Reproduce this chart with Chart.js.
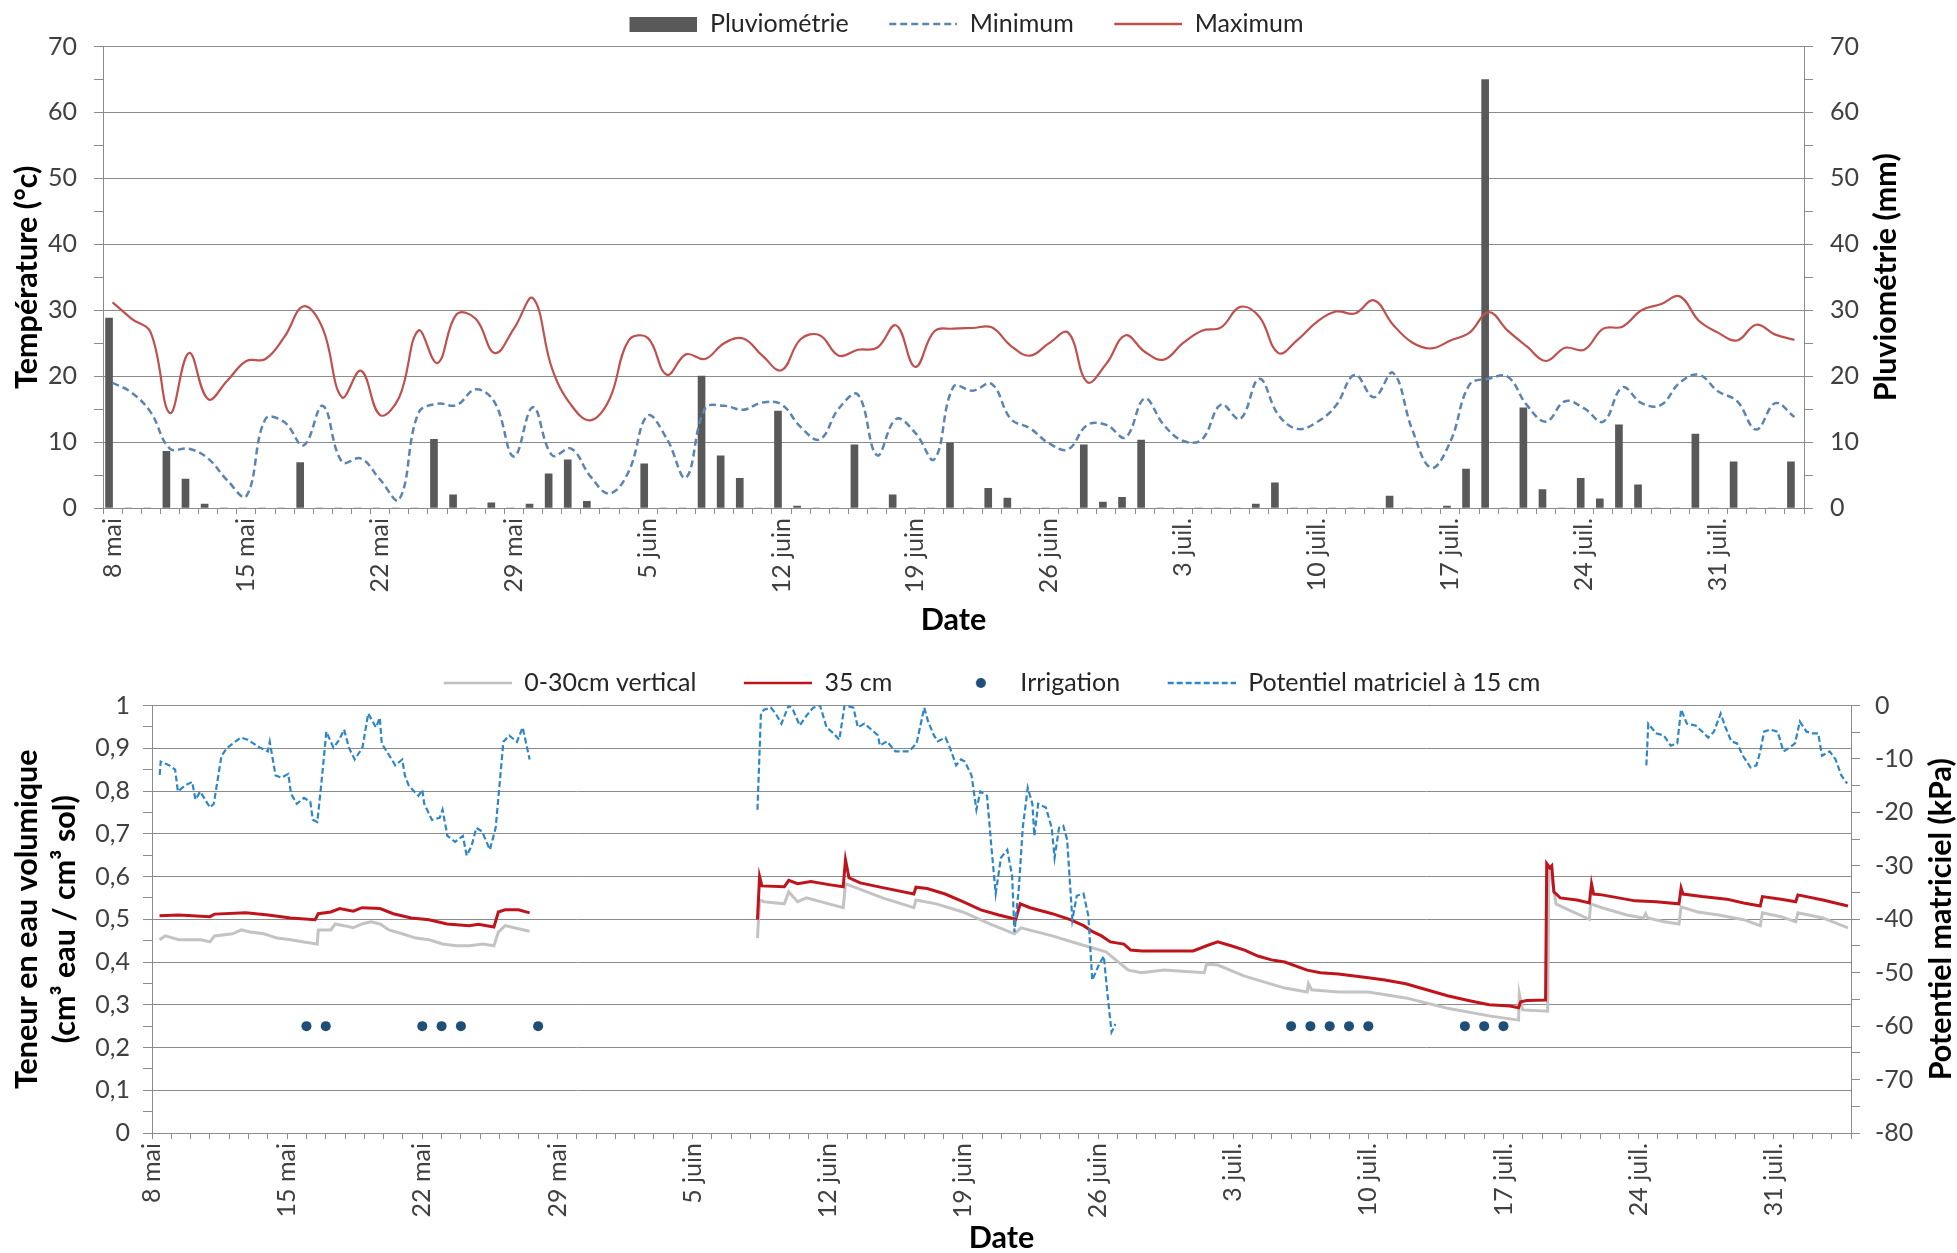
<!DOCTYPE html>
<html>
<head>
<meta charset="utf-8">
<script src="https://cdn.jsdelivr.net/npm/chart.js@4.4.1/dist/chart.umd.min.js"></script>
<style>
  html, body { margin: 0; padding: 0; background: #fff; }
  #wrap { position: relative; width: 1957px; height: 1253px; }
  .box { position: absolute; left: 0; width: 1957px; }
  #top { top: 0; height: 650px; }
  #bottom { top: 650px; height: 603px; }
</style>
</head>
<body>
<div id="wrap">
  <div class="box" id="top"><canvas id="meteo"></canvas></div>
  <div class="box" id="bottom"><canvas id="sol"></canvas></div>
</div>
<script>
// tick labels of the date axis (one every 7 days from 8 mai)
var weekLabels = ['8 mai','15 mai','22 mai','29 mai','5 juin','12 juin','19 juin','26 juin','3 juil.','10 juil.','17 juil.','24 juil.','31 juil.'];

// daily temperatures, 8 mai -> 4 août
var tempMax = [31.2,28.7,26.6,14.4,23.5,16.5,19.3,22.3,22.6,26.0,
  30.6,27.2,16.8,20.8,14.1,16.8,26.9,22.0,29.4,28.7,
  23.5,27.2,31.8,21.1,15.6,13.3,16.5,25.4,25.8,20.2,
  23.3,22.6,25.0,25.7,23.1,20.9,25.6,26.2,23.1,24.0,
  24.3,27.7,21.4,26.8,27.2,27.3,27.4,24.6,23.1,25.0,
  26.6,19.1,21.9,26.2,23.7,22.5,25.0,26.9,27.4,30.5,
  29.0,23.5,25.5,28.2,29.8,29.5,31.5,27.8,25.1,24.2,
  25.4,26.6,29.7,26.9,24.5,22.3,24.3,24.0,27.2,27.5,
  30.0,30.9,32.1,28.4,26.6,25.4,27.8,26.3,25.5];
var tempMin = [19.0,17.5,14.5,9.0,9.0,7.5,4.2,1.8,13.5,13.0,
  9.5,15.5,7.0,7.5,4.3,1.3,14.4,15.8,15.6,18.0,
  16.0,7.8,15.3,8.0,9.0,4.8,2.2,5.5,14.0,10.5,
  4.6,15.1,15.5,14.9,16.0,15.7,12.3,10.4,15.1,17.2,
  8.0,13.5,11.4,7.4,18.4,17.8,18.8,13.5,12.1,9.8,
  8.9,12.6,12.6,10.7,16.6,12.6,10.2,10.4,15.7,13.5,
  19.6,14.1,12.0,13.0,15.5,20.2,16.8,20.5,11.9,6.1,
  10.1,18.7,19.6,19.9,15.6,13.1,16.2,15.1,13.1,18.3,
  15.9,15.6,19.0,20.2,17.7,16.2,11.9,15.9,13.8];
// daily rainfall (mm)
var rain = [28.8,0,0,8.6,4.4,0.6,0,0,0,0,
  6.9,0,0,0,0,0,0,10.4,2.0,0,
  0.8,0,0.6,5.2,7.3,1.0,0,0,6.7,0,
  0,20,7.9,4.5,0,14.7,0.3,0,0,9.6,
  0,2.0,0,0,9.9,0,3.0,1.5,0,0,
  0,9.6,0.9,1.6,10.3,0,0,0,0,0,
  0.6,3.8,0,0,0,0,0,1.8,0,0,
  0.3,5.9,65,0,15.2,2.8,0,4.5,1.4,12.6,
  3.5,0,0,11.2,0,7.0,0,0,7.0];

// soil water content [day since 8 mai, cm3/cm3]
var shallowA = [[0.39,.452],[0.69,.461],[1.39,.452],[2.55,.452],[3.0,.447],[3.24,.461],[4.17,.466],[4.63,.475],[5.09,.47],[5.79,.466],[6.48,.456],[7.18,.452],[7.87,.447],[8.56,.442],[8.61,.475],[9.26,.475],[9.49,.489],[9.95,.485],[10.42,.48],[10.88,.489],[11.34,.494],[11.81,.489],[12.27,.475],[12.96,.466],[13.66,.456],[14.35,.452],[15.05,.442],[15.74,.438],[16.44,.438],[17.13,.442],[17.71,.438],[17.94,.47],[18.29,.485],[18.75,.48],[19.56,.472]];
var shallowB = [[31.36,.456],[31.47,.545],[31.7,.541],[32.75,.536],[32.98,.564],[33.44,.541],[33.9,.55],[35.06,.536],[35.8,.527],[35.92,.583],[36.45,.574],[37.84,.55],[39.46,.527],[39.57,.545],[40.62,.536],[42.0,.517],[43.39,.489],[44.67,.466],[45.01,.48],[46.63,.461],[48.02,.442],[49.41,.424],[50.57,.381],[51.26,.375],[52.42,.381],[54.5,.375],[54.62,.395],[55.2,.393],[56.59,.367],[58.67,.339],[59.83,.33],[59.9,.349],[60.06,.335],[61.45,.33],[63,.33],[64.94,.316],[67.1,.292],[69.26,.274],[70.78,.264],[70.82,.325],[70.99,.288],[72.29,.285],[72.35,.611],[72.5,.597],[72.72,.536],[73.37,.522],[74.45,.5],[74.51,.536],[75.1,.527],[76.39,.51],[77.25,.503],[77.36,.513],[77.47,.503],[78.33,.494],[79.09,.489],[79.2,.529],[80.06,.517],[81.14,.51],[82.44,.499],[83.3,.485],[83.41,.515],[84.38,.506],[85.14,.494],[85.25,.515],[86.54,.503],[87.84,.48]];
var deepA = [[0.39,.508],[1.39,.51],[3.0,.506],[3.24,.512],[4.86,.515],[6.02,.51],[7.18,.503],[8.45,.499],[8.61,.513],[9.26,.517],[9.72,.525],[10.42,.519],[10.88,.527],[11.81,.525],[12.5,.513],[13.43,.503],[14.35,.499],[15.28,.489],[16.44,.485],[16.9,.488],[17.71,.482],[17.94,.517],[18.29,.522],[18.98,.522],[19.56,.515]];
var deepB = [[31.36,.499],[31.47,.6],[31.59,.578],[32.75,.576],[32.98,.591],[33.44,.583],[34.13,.588],[35.06,.581],[35.8,.576],[35.92,.639],[36.1,.597],[36.68,.585],[37.84,.574],[39.46,.559],[39.57,.575],[40.15,.572],[41.08,.559],[42.0,.541],[42.93,.522],[43.86,.51],[44.74,.5],[44.97,.536],[45.48,.527],[46.63,.513],[47.56,.499],[48.25,.485],[48.72,.471],[49.18,.461],[49.64,.447],[50.34,.442],[50.69,.428],[51.26,.426],[53.35,.426],[53.93,.426],[54.62,.438],[55.2,.447],[55.89,.438],[56.59,.428],[57.28,.414],[57.98,.405],[58.67,.4],[59.83,.381],[60.52,.375],[61.45,.372],[63,.363],[63.86,.358],[64.94,.349],[66.02,.335],[67.1,.321],[68.18,.31],[69.26,.3],[70.34,.297],[70.78,.293],[70.89,.307],[71.21,.31],[72.18,.311],[72.24,.63],[72.4,.62],[72.5,.625],[72.61,.564],[72.94,.55],[73.8,.545],[74.45,.538],[74.56,.583],[74.67,.559],[75.1,.557],[75.96,.55],[76.82,.543],[77.9,.541],[79.09,.536],[79.2,.573],[79.3,.559],[80.28,.553],[81.57,.547],[82.44,.538],[83.3,.531],[83.41,.553],[84.38,.547],[85.14,.541],[85.25,.557],[86.54,.545],[87.84,.531]];

// matric potential at 15 cm [day, kPa]
var potA = [[0.4,-13],[0.45,-10.5],[0.9,-11.2],[1.2,-12],[1.34,-16.1],[1.7,-15],[2.08,-14.3],[2.25,-17.6],[2.5,-16.1],[3.0,-19.1],[3.2,-18.4],[3.6,-9.4],[3.9,-7.9],[4.6,-6],[4.95,-6.4],[5.6,-7.9],[6.0,-8.6],[6.1,-6.8],[6.4,-13.1],[6.7,-13.5],[7.06,-12.8],[7.2,-16.5],[7.5,-18.4],[7.87,-17.3],[8.2,-18],[8.33,-21.4],[8.56,-21.8],[8.75,-15.4],[9.03,-4.9],[9.4,-7.9],[9.7,-6.4],[9.95,-4.5],[10.2,-7.9],[10.5,-10.1],[10.9,-7.9],[11.2,-1.5],[11.6,-4.1],[11.8,-2.3],[11.9,-7.1],[12.3,-9.4],[12.6,-11.2],[12.96,-10.1],[13.1,-13.1],[13.3,-15],[13.8,-16.9],[14.0,-15.8],[14.1,-18.4],[14.5,-21.4],[14.9,-21],[15.05,-19.5],[15.3,-24.4],[15.7,-25.5],[16.1,-24.4],[16.3,-28.1],[16.55,-26.3],[16.8,-22.9],[17.1,-23.6],[17.5,-27],[17.8,-22.9],[18.2,-6.8],[18.5,-5.6],[18.9,-6.8],[19.2,-4.1],[19.56,-10.1]];
var potB = [[31.36,-19.5],[31.54,-1.5],[31.7,-0.8],[32.05,-0.4],[32.3,-1.5],[32.6,-3.4],[32.98,0],[33.2,-0.8],[33.55,-3.75],[33.9,-1.9],[34.25,-0.4],[34.6,0],[34.94,-4.1],[35.3,-5.2],[35.6,-6.4],[35.87,0],[36.33,-0.4],[36.56,-4.1],[36.9,-3.4],[37.26,-4.5],[37.6,-5.6],[37.7,-7.5],[38.07,-6.7],[38.5,-8.6],[38.9,-8.6],[39.2,-8.6],[39.6,-7.1],[40.0,-0.4],[40.2,-3],[40.5,-5.6],[40.7,-6.7],[41.1,-6],[41.36,-8.2],[41.65,-11.2],[41.9,-10.1],[42.1,-10.5],[42.45,-13.1],[42.7,-19.5],[42.9,-16.1],[43.25,-16.9],[43.5,-27.4],[43.7,-35.2],[43.97,-28.5],[44.3,-27],[44.55,-31.9],[44.67,-42.4],[44.9,-34.1],[45.1,-22.9],[45.36,-15.4],[45.6,-18.4],[45.7,-24.4],[45.9,-18.4],[46.3,-19.1],[46.6,-22.9],[46.75,-28.5],[46.98,-22.9],[47.2,-22.5],[47.4,-25.1],[47.67,-40.1],[47.9,-35.6],[48.25,-35.2],[48.5,-39.4],[48.7,-51.4],[49.06,-48.4],[49.3,-46.9],[49.5,-54.4],[49.7,-61.1],[49.9,-59.6]];
var potC = [[77.4,-11.2],[77.5,-3.4],[77.9,-5.2],[78.3,-5.6],[78.66,-7.5],[79.0,-7.1],[79.2,-0.75],[79.5,-3.4],[79.95,-3.75],[80.3,-4.9],[80.6,-6],[80.9,-4.9],[81.25,-1.5],[81.5,-4.1],[81.8,-6.7],[82.1,-7.1],[82.4,-9.4],[82.8,-11.6],[83.1,-11.2],[83.3,-8.6],[83.5,-4.9],[83.8,-4.5],[84.2,-4.9],[84.5,-8.6],[84.8,-7.9],[85.1,-7.1],[85.35,-3],[85.7,-4.9],[86.0,-5.2],[86.3,-5.2],[86.5,-9.4],[86.9,-8.6],[87.2,-10.1],[87.5,-13.1],[87.8,-14.6]];

// irrigation days
var irrigationDays = [8,9,14,15,16,20,59,60,61,62,63,68,69,70];
var irrigationLevel = 0.25;

var FONT = 'Lato';
var GREY = '#8c8c8c';
var TICK_FONT = {family: FONT, size: 25};
var TITLE_FONT = {family: FONT, size: 30.5, weight: 'bold'};

function pts(list){ return list.map(function(p){ return {x: p[0], y: p[1]}; }); }
function joinGaps(){
  var out = [];
  for (var i = 0; i < arguments.length; i++){
    if (i > 0) out.push({x: (arguments[i-1][arguments[i-1].length-1][0] + arguments[i][0][0]) / 2, y: null});
    out = out.concat(pts(arguments[i]));
  }
  return out;
}

// legend icons, drawn on small canvases (lead = blank space on the left)
function legendIcon(kind, color, lead, dash){
  var c = document.createElement('canvas');
  c.width = lead + 68; c.height = 16;
  var g = c.getContext('2d');
  g.fillStyle = color; g.strokeStyle = color;
  if (kind == 'bar'){
    g.fillRect(lead, 1, 68, 15);
  } else if (kind == 'dot'){
    g.beginPath(); g.arc(c.width - 27, 8, 5, 0, Math.PI * 2); g.fill();
  } else {
    g.lineWidth = 2.5; g.setLineDash(dash || []);
    g.beginPath(); g.moveTo(lead, 8); g.lineTo(lead + 68, 8); g.stroke();
  }
  return c;
}

// right-hand axis title reading bottom to top
var rightTitle = {
  id: 'rightTitle',
  afterDraw: function(chart){
    var o = chart.config.options.plugins.rightTitle;
    var a = chart.chartArea, ctx = chart.ctx;
    ctx.save();
    ctx.translate(o.x, (a.top + a.bottom) / 2);
    ctx.rotate(-Math.PI / 2);
    ctx.font = 'bold 30.5px ' + FONT;
    ctx.fillStyle = '#000';
    ctx.textAlign = 'center'; ctx.textBaseline = 'middle';
    ctx.fillText(o.text, 0, 0);
    ctx.restore();
  }
};

function dateAxis(h, titlePad){
  return {
    type: 'linear', min: 0, max: 88,
    ticks: {
      stepSize: 1, autoSkip: false, maxTicksLimit: 200, minRotation: 90, maxRotation: 90,
      padding: 4, font: TICK_FONT, color: '#404040',
      callback: function(v){ return v % 7 === 0 ? weekLabels[v / 7] : ''; }
    },
    grid: {drawOnChartArea: false, tickLength: 6, color: GREY},
    border: {color: GREY},
    title: {display: true, text: 'Date', font: TITLE_FONT, color: '#000', padding: {top: 0, bottom: titlePad}},
    afterFit: function(s){ s.height = h; }
  };
}

function legendOpts(icons, lead, pad){
  return {
    position: 'top',
    labels: {
      usePointStyle: true, pointStyleWidth: lead + 68, boxHeight: 16,
      padding: pad, font: {family: FONT, size: 25}, color: '#262626',
      sort: function(a, b){ return a.datasetIndex - b.datasetIndex; },
      generateLabels: function(chart){
        return Chart.defaults.plugins.legend.labels.generateLabels(chart).map(function(it){
          it.pointStyle = icons[it.datasetIndex]; return it;
        });
      }
    }
  };
}

// ---------- Meteo ----------
var leadTop = 36;
var topIcons = [legendIcon('bar', '#595959', leadTop), legendIcon('line', '#5b84b1', leadTop, [7, 4]), legendIcon('line', '#c0504d', leadTop)];
new Chart(document.getElementById('meteo'), {
  type: 'bar',
  data: {
    datasets: [
      {type: 'bar', label: 'Pluviométrie', data: rain, xAxisID: 'x2', yAxisID: 'y1',
        backgroundColor: '#595959', barThickness: 7, order: 3},
      {type: 'line', label: 'Minimum', data: tempMin.map(function(v, i){ return {x: i, y: v}; }),
        xAxisID: 'x', yAxisID: 'y', borderColor: '#5b84b1', borderDash: [7, 4], borderWidth: 2.5,
        pointRadius: 0, tension: 0.4, fill: false, order: 1},
      {type: 'line', label: 'Maximum', data: tempMax.map(function(v, i){ return {x: i, y: v}; }),
        xAxisID: 'x', yAxisID: 'y', borderColor: '#c0504d', borderWidth: 2.2,
        pointRadius: 0, tension: 0.4, fill: false, order: 2}
    ]
  },
  options: {
    responsive: true, maintainAspectRatio: false, animation: false, events: [],
    layout: {padding: {top: 7, right: 60, bottom: 0, left: 0}},
    plugins: {
      legend: legendOpts(topIcons, leadTop, 4.5),
      tooltip: {enabled: false},
      rightTitle: {text: 'Pluviométrie (mm)', x: 1886}
    },
    scales: {
      x: dateAxis(142, 12),
      x2: {type: 'category', labels: rain.map(function(v, i){ return i; }), offset: true, display: false},
      y: {
        position: 'left', min: 0, max: 70,
        ticks: {stepSize: 5, autoSkip: false, maxTicksLimit: 200, padding: 17, font: TICK_FONT, color: '#404040',
          callback: function(v){ return v % 10 === 0 ? v : ''; }},
        grid: {color: function(c){ return c.tick && c.tick.value % 10 === 0 ? GREY : 'rgba(0,0,0,0)'; }, tickColor: GREY, tickLength: 9},
        border: {color: GREY},
        title: {display: true, text: 'Température (°c)', font: TITLE_FONT, color: '#000', padding: {top: 9, bottom: 0}},
        afterFit: function(s){ s.width = 103; }
      },
      y1: {
        position: 'right', min: 0, max: 70,
        ticks: {stepSize: 5, autoSkip: false, maxTicksLimit: 200, padding: 17, font: TICK_FONT, color: '#404040',
          callback: function(v){ return v % 10 === 0 ? v : ''; }},
        grid: {drawOnChartArea: false, color: GREY, tickLength: 9},
        border: {color: GREY},
        afterFit: function(s){ s.width = 1957 - 60 - 1804; }
      }
    }
  },
  plugins: [rightTitle]
});

// ---------- Sol ----------
var leadBot = 27;
var botIcons = [legendIcon('line', '#bfbfbf', leadBot), legendIcon('line', '#c0141c', leadBot),
  legendIcon('dot', '#1f4e79', leadBot), legendIcon('line', '#2e86c8', leadBot, [6, 3])];
function waterLabel(v){
  var r = Math.round(v * 100);
  if (r % 10 !== 0) return '';
  if (r === 0) return '0';
  if (r === 100) return '1';
  return (r / 100).toFixed(1).replace('.', ',');
}
new Chart(document.getElementById('sol'), {
  type: 'line',
  data: {
    datasets: [
      {label: '0-30cm vertical', data: joinGaps(shallowA, shallowB), yAxisID: 'y',
        borderColor: '#c3c3c3', borderWidth: 3, pointRadius: 0, tension: 0, order: 3},
      {label: '35 cm', data: joinGaps(deepA, deepB), yAxisID: 'y',
        borderColor: '#c0141c', borderWidth: 3, pointRadius: 0, tension: 0, order: 2},
      {label: 'Irrigation', data: irrigationDays.map(function(d){ return {x: d, y: irrigationLevel}; }), yAxisID: 'y',
        showLine: false, pointRadius: 5, pointBackgroundColor: '#1f4e79', pointBorderWidth: 0,
        borderColor: '#1f4e79', backgroundColor: '#1f4e79', order: 1},
      {label: 'Potentiel matriciel à 15 cm', data: joinGaps(potA, potB, potC), yAxisID: 'y1',
        borderColor: '#2e86c8', borderWidth: 2.2, borderDash: [6, 3], pointRadius: 0, tension: 0, order: 0}
    ]
  },
  options: {
    responsive: true, maintainAspectRatio: false, animation: false, events: [],
    layout: {padding: {top: 0, right: 0, bottom: 0, left: 0}},
    plugins: {
      legend: legendOpts(botIcons, leadBot, 20.5),
      tooltip: {enabled: false},
      rightTitle: {text: 'Potentiel matriciel (kPa)', x: 1941}
    },
    scales: {
      x: dateAxis(120, -3),
      y: {
        position: 'left', min: 0, max: 1,
        ticks: {stepSize: 0.05, autoSkip: false, maxTicksLimit: 200, padding: 13, font: TICK_FONT, color: '#404040',
          callback: waterLabel},
        grid: {color: function(c){ return c.tick && Math.round(c.tick.value * 100) % 10 === 0 ? GREY : 'rgba(0,0,0,0)'; }, tickColor: GREY, tickLength: 9},
        border: {color: GREY},
        title: {display: true, text: ['Teneur en eau volumique', '(cm³ eau / cm³ sol)'], font: {family: FONT, size: 30.5, weight: 'bold', lineHeight: 1.25}, color: '#000', padding: {top: 8, bottom: 0}},
        afterFit: function(s){ s.width = 152; }
      },
      y1: {
        position: 'right', min: -80, max: 0,
        ticks: {stepSize: 5, autoSkip: false, maxTicksLimit: 200, padding: 15, font: TICK_FONT, color: '#404040',
          callback: function(v){ return v % 10 === 0 ? v : ''; }},
        grid: {drawOnChartArea: false, color: GREY, tickLength: 9},
        border: {color: GREY},
        afterFit: function(s){ s.width = 1957 - 1851; }
      }
    }
  },
  plugins: [rightTitle]
});
</script>
</body>
</html>
